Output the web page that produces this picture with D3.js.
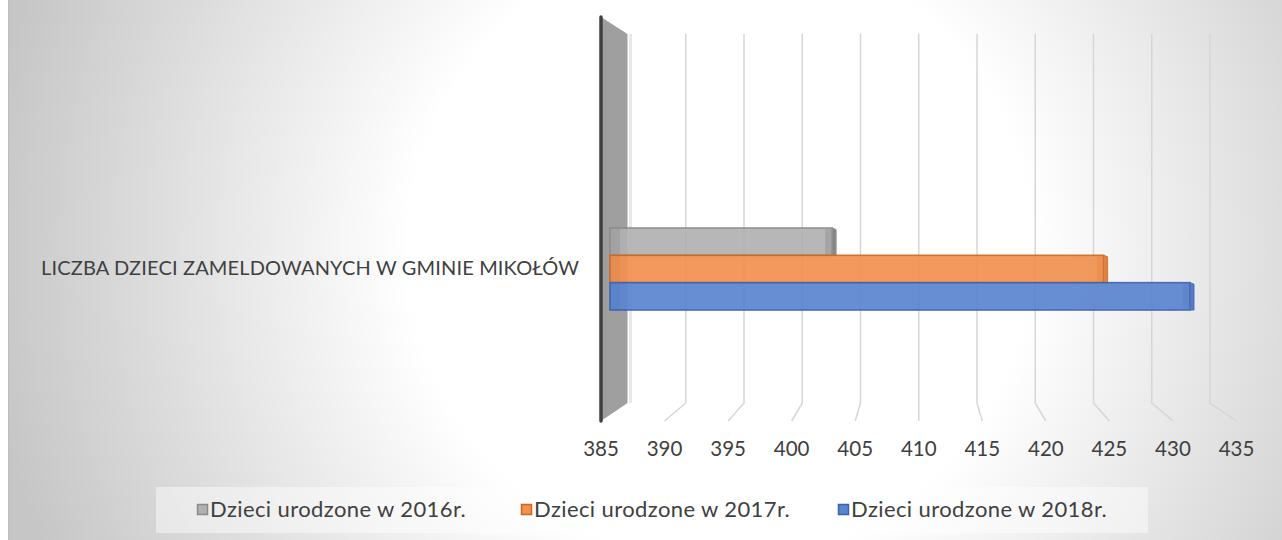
<!DOCTYPE html>
<html>
<head>
<meta charset="utf-8">
<script src="https://cdn.jsdelivr.net/npm/d3@7/dist/d3.min.js"></script>
<style>
html,body{margin:0;padding:0;background:#fff;}
svg{display:block;}
text{font-family:Lato,"Open Sans",sans-serif;}
</style>
</head>
<body>
<svg id="chart" width="1282" height="540"></svg>
<script>
// ---- data ----
const categories = ["LICZBA DZIECI ZAMELDOWANYCH W GMINIE MIKOŁÓW"];
const seriesNames = ["Dzieci urodzone w 2016r.", "Dzieci urodzone w 2017r.", "Dzieci urodzone w 2018r."];
const values2016 = [403];
const values2017 = [425];
const values2018 = [432];
const tickValues = [385, 390, 395, 400, 405, 410, 415, 420, 425, 430, 435];
const seriesColors = ["#b1b1b1", "#f29150", "#5b84cf"];
const seriesStroke = ["#8a8a8a", "#d0661e", "#3a62b2"];
const seriesEnd = ["#7c7c7c", "#e07a36", "#4a72c0"];

const seriesValues = [values2016, values2017, values2018];

const svg = d3.select("#chart");
const W = 1282, H = 540;

// background
const defs = svg.append("defs");
const rg = defs.append("radialGradient").attr("id", "bg")
  .attr("gradientUnits", "userSpaceOnUse")
  .attr("cx", 720).attr("cy", 250).attr("r", 740);
rg.append("stop").attr("offset", 0).attr("stop-color", "#ffffff");
rg.append("stop").attr("offset", 0.42).attr("stop-color", "#ffffff");
rg.append("stop").attr("offset", 1).attr("stop-color", "#c6c6c6");

svg.append("rect").attr("x", 8).attr("y", 0).attr("width", W - 8).attr("height", H).attr("fill", "url(#bg)");
svg.append("line").attr("x1", 8.5).attr("x2", 8.5).attr("y1", 0).attr("y2", H).attr("stroke", "#bdbdbd").attr("stroke-width", 1);

// scales
const domain = [tickValues[0], tickValues[tickValues.length - 1]];
const xFront = d3.scaleLinear().domain(domain).range([601, 1236.5]);
const xBack = d3.scaleLinear().domain(domain).range([627.5, 1210]);
const xBar = d3.scaleLinear().domain(domain).range([610, 1227]);

const backTop = 34, backBottom = 403, frontTop = 17, frontBottom = 421;

const yCat = d3.scaleBand().domain(categories).range([128, 410]);

// gridlines (back wall + floor)
const grid = svg.append("g");
tickValues.slice(1).forEach(t => {
  grid.append("path")
    .attr("d", `M${xBack(t)},${backTop}L${xBack(t)},${backBottom}L${xFront(t)},${frontBottom}`)
    .attr("fill", "none").attr("stroke", "#d6d6d6").attr("stroke-width", 1.5);
});

// side wall
svg.append("path")
  .attr("d", `M${xBack(domain[0]) + 3},${backTop}L${xBack(domain[0]) + 3},${backBottom}`)
  .attr("stroke", "#e2e2e2").attr("stroke-width", 3).attr("opacity", 0.8);
svg.append("path")
  .attr("d", `M${xFront(domain[0])},${frontTop}L${xBack(domain[0])},${backTop}L${xBack(domain[0])},${backBottom}L${xFront(domain[0])},${frontBottom}Z`)
  .attr("fill", "#9f9f9f");
svg.append("line")
  .attr("x1", xFront(domain[0])).attr("x2", xFront(domain[0]))
  .attr("y1", frontTop).attr("y2", frontBottom)
  .attr("stroke", "#404040").attr("stroke-width", 3.5).attr("stroke-linecap", "round");

// bars
const barsG = svg.append("g");
categories.forEach((cat, ci) => {
  const cy = yCat(cat) + yCat.bandwidth() / 2;
  const yS = d3.scaleBand().domain(seriesNames).range([cy - 41, cy + 41]);
  seriesNames.forEach((s, si) => {
    const v = seriesValues[si][ci];
    const x0 = xBar(domain[0]);
    const x1 = xBar(v);
    const y0 = yS(s), h = yS.bandwidth();
    const g = barsG.append("g").attr("opacity", 0.92);
    g.append("rect").attr("x", x0).attr("y", y0).attr("width", x1 - x0).attr("height", h)
      .attr("fill", seriesColors[si]);
    g.append("rect").attr("x", x0 + 1).attr("y", y0 + 1).attr("width", 9).attr("height", h - 2)
      .attr("fill", seriesEnd[si]).attr("opacity", 0.25);
    g.append("rect").attr("x", x1 - 7).attr("y", y0 + 1).attr("width", 6).attr("height", h - 2)
      .attr("fill", seriesEnd[si]).attr("opacity", 0.35);
    g.append("rect").attr("x", x0).attr("y", y0).attr("width", x1 - x0).attr("height", h)
      .attr("fill", "none").attr("stroke", seriesStroke[si]).attr("stroke-width", 1.6);
    g.append("path")
      .attr("d", `M${x1},${y0}L${x1 + 4},${y0 + 1.5}L${x1 + 4},${y0 + h}L${x1},${y0 + h}Z`)
      .attr("fill", seriesEnd[si]).attr("stroke", seriesStroke[si]).attr("stroke-width", 1);
  });
  svg.append("text").attr("x", 579).attr("y", cy + 1)
    .attr("text-anchor", "end").attr("dominant-baseline", "middle")
    .attr("font-size", 20).attr("letter-spacing", 0.15).attr("fill", "#404040").text(cat);
});

// tick labels
svg.append("g").selectAll("text").data(tickValues).join("text")
  .attr("x", d => xFront(d)).attr("y", 451)
  .attr("text-anchor", "middle").attr("dominant-baseline", "middle")
  .attr("font-size", 20.5).attr("fill", "#404040")
  .text(d => d);

// legend
svg.append("rect").attr("x", 156).attr("y", 487).attr("width", 992).attr("height", 46)
  .attr("fill", "#ffffff").attr("fill-opacity", 0.45);
const legendX = [197, 521, 838];
const leg = svg.append("g").selectAll("g").data(seriesNames).join("g")
  .attr("transform", (d, i) => `translate(${legendX[i]},510)`);
leg.append("rect").attr("x", 0.5).attr("y", -5.5).attr("width", 10).attr("height", 10)
  .attr("fill", (d, i) => seriesColors[i]).attr("stroke", (d, i) => seriesStroke[i]).attr("stroke-width", 1.5);
leg.append("text").attr("x", 13).attr("y", 1)
  .attr("dominant-baseline", "middle").attr("font-size", 22).attr("letter-spacing", 0.4).attr("fill", "#404040")
  .text(d => d);
</script>
</body>
</html>
